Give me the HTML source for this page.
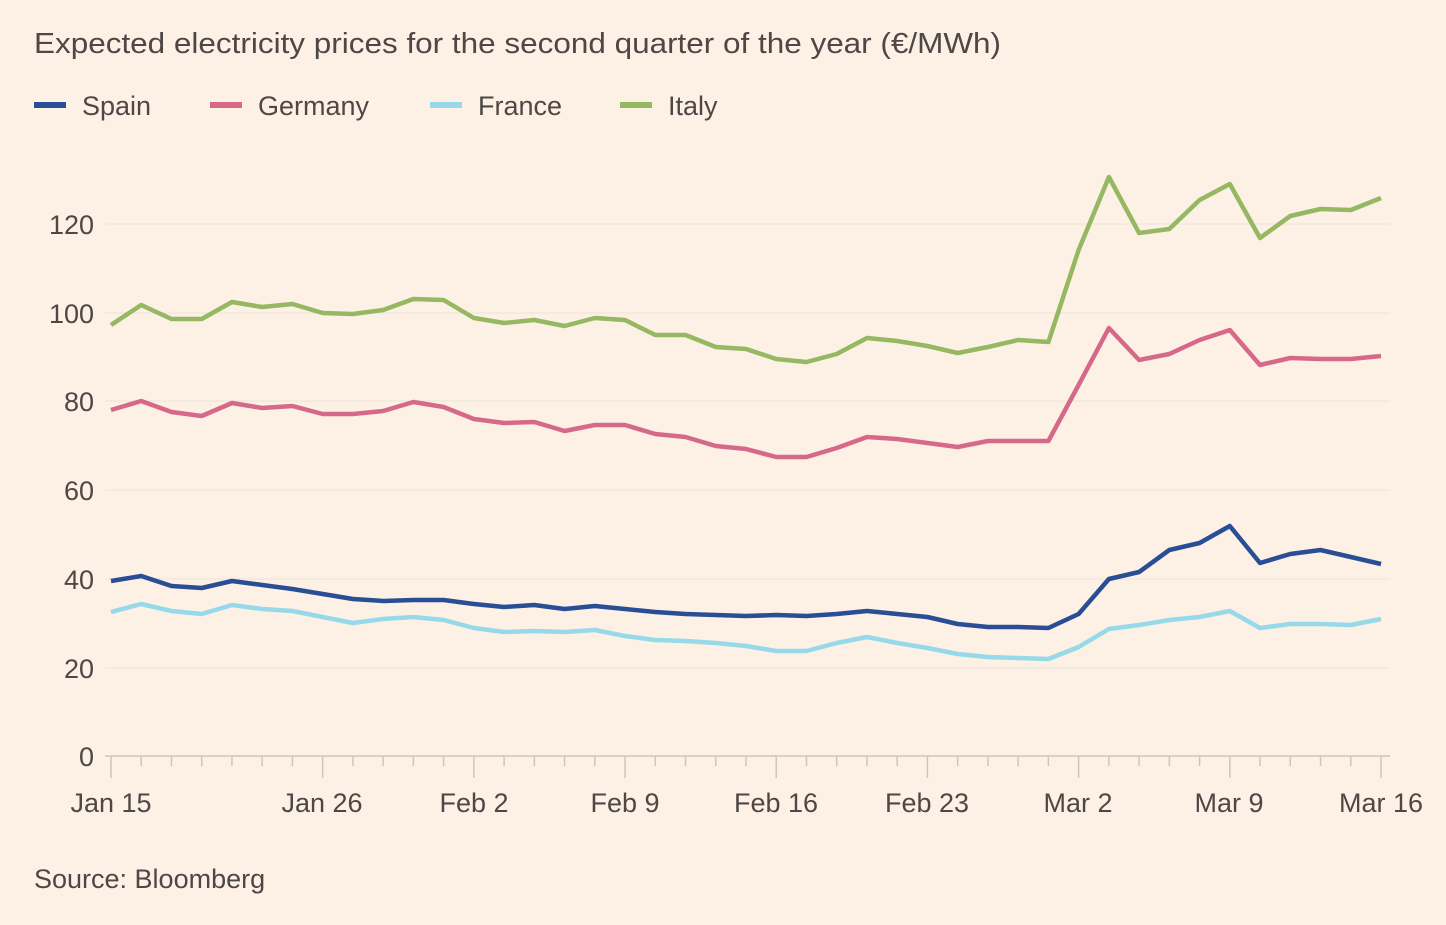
<!DOCTYPE html>
<html><head><meta charset="utf-8"><style>
html,body{margin:0;padding:0;background:#fdf1e6;}
body{width:1446px;height:920px;overflow:hidden;font-family:"Liberation Sans",sans-serif;}
</style></head><body>
<svg width="1446" height="920" xmlns="http://www.w3.org/2000/svg" font-family="Liberation Sans, sans-serif">
<rect width="1446" height="920" fill="#fdf1e6"/>
<text x="34" y="53" font-size="29" fill="#4d4845" textLength="967" lengthAdjust="spacingAndGlyphs">Expected electricity prices for the second quarter of the year (€/MWh)</text>
<g font-size="27" fill="#4d4845">
<rect x="34" y="102" width="32" height="6" fill="#2a4e96"/><text x="82" y="115">Spain</text>
<rect x="210" y="102" width="32" height="6" fill="#d6698a"/><text x="258" y="115">Germany</text>
<rect x="430" y="102" width="32" height="6" fill="#96d9e8"/><text x="478" y="115">France</text>
<rect x="620" y="102" width="32" height="6" fill="#96b862"/><text x="668" y="115">Italy</text>
</g>
<g stroke="#ede2d6" stroke-width="1">
<line x1="105" x2="1390" y1="224" y2="224"/><line x1="105" x2="1390" y1="313" y2="313"/>
<line x1="105" x2="1390" y1="401" y2="401"/><line x1="105" x2="1390" y1="490" y2="490"/>
<line x1="105" x2="1390" y1="579" y2="579"/><line x1="105" x2="1390" y1="668" y2="668"/>
</g>
<line x1="105" x2="1390" y1="756" y2="756" stroke="#cfc5ba" stroke-width="1.5"/>
<g font-size="27" fill="#4d4845" text-anchor="end">
<text x="94" y="234">120</text><text x="94" y="323">100</text><text x="94" y="411">80</text>
<text x="94" y="500">60</text><text x="94" y="589">40</text><text x="94" y="678">20</text><text x="94" y="766">0</text>
</g>
<g id="ticks" stroke="#cfc5ba" stroke-width="1.5"></g>
<g font-size="27" fill="#4d4845" text-anchor="middle">
<text x="111" y="812">Jan 15</text><text x="322" y="812">Jan 26</text><text x="474" y="812">Feb 2</text>
<text x="625" y="812">Feb 9</text><text x="776" y="812">Feb 16</text><text x="927" y="812">Feb 23</text>
<text x="1078" y="812">Mar 2</text><text x="1229" y="812">Mar 9</text><text x="1381" y="812">Mar 16</text>
</g>
<g id="lines" fill="none" stroke-width="4.5" stroke-linejoin="round"></g>
<text x="34" y="888" font-size="27" fill="#4d4845">Source: Bloomberg</text>
</svg>
<script>
var it=[325,305,319,319,302,307,304,313,314,310,299,300,318,323,320,326,318,320,335,335,347,349,359,362,354,338,341,346,353,347,340,342,250,177,233,229,200,184,238,216,209,210,198];
var ge=[410,401,412,416,403,408,406,414,414,411,402,407,419,423,422,431,425,425,434,437,446,449,457,457,448,437,439,443,447,441,441,441,385,328,360,354,340,330,365,358,359,359,356];
var sp=[581,576,586,588,581,585,589,594,599,601,600,600,604,607,605,609,606,609,612,614,615,616,615,616,614,611,614,617,624,627,627,628,614,579,572,550,543,526,563,554,550,557,564];
var fr=[612,604,611,614,605,609,611,617,623,619,617,620,628,632,631,632,630,636,640,641,643,646,651,651,643,637,643,648,654,657,658,659,647,629,625,620,617,611,628,624,624,625,619];
var ns="http://www.w3.org/2000/svg";
function X(i){return 111+i*(1270/42);}
var L=document.getElementById("lines");
[[fr,"#96d9e8"],[sp,"#2a4e96"],[ge,"#d6698a"],[it,"#96b862"]].forEach(function(s){
var p=document.createElementNS(ns,"polyline");
p.setAttribute("points",s[0].map(function(y,i){return X(i).toFixed(1)+","+y}).join(" "));
p.setAttribute("stroke",s[1]);L.appendChild(p);});
var T=document.getElementById("ticks");var lab=[0,7,12,17,22,27,32,37,42];
for(var i=0;i<43;i++){var l=document.createElementNS(ns,"line");
l.setAttribute("x1",X(i));l.setAttribute("x2",X(i));l.setAttribute("y1",756);
l.setAttribute("y2",lab.indexOf(i)>=0?778:766);T.appendChild(l);}
</script>
</body></html>
